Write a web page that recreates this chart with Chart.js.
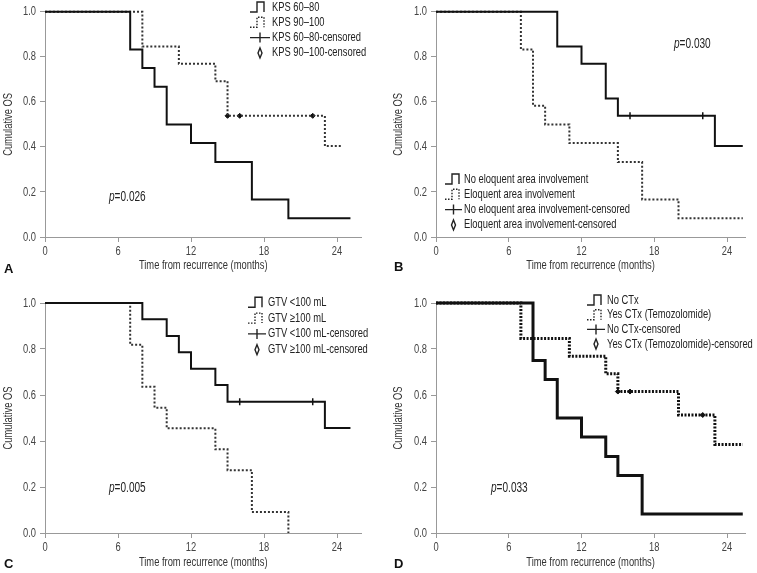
<!DOCTYPE html>
<html>
<head>
<meta charset="utf-8">
<script src="https://cdn.jsdelivr.net/npm/chart.js@4/dist/chart.umd.min.js"></script>
<style>
  html, body { margin: 0; padding: 0; background: #fff; }
  #wrap { position: relative; width: 757px; height: 573px; }
  canvas { position: absolute; }
</style>
</head>
<body>
<div id="wrap">
  <canvas id="chartA" width="378" height="286" style="left:0;top:0"></canvas>
  <canvas id="chartB" width="379" height="286" style="left:378px;top:0"></canvas>
  <canvas id="chartC" width="378" height="287" style="left:0;top:286px"></canvas>
  <canvas id="chartD" width="379" height="287" style="left:378px;top:286px"></canvas>
</div>
<script>
// axis ticks
const monthTicks = [0, 6, 12, 18, 24];
const survTicks = [0, 0.2, 0.4, 0.6, 0.8, 1.0];

// A: KPS
const kpsLowT = [0, 7, 8, 9, 10, 12, 14, 17, 20, 25.1];
const kpsLowS = [1, 0.833, 0.75, 0.667, 0.5, 0.417, 0.333, 0.167, 0.083, 0.083];
const kpsHighT = [0, 8, 11, 14, 15, 23, 24.4];
const kpsHighS = [1, 0.846, 0.769, 0.692, 0.538, 0.404, 0.404];
const kpsHighCensT = [15, 16, 22];
const kpsHighCensS = [0.538, 0.538, 0.538];

// B: eloquent area
const noEloT = [0, 10, 12, 14, 15, 23, 25.3];
const noEloS = [1, 0.846, 0.769, 0.615, 0.538, 0.404, 0.404];
const noEloCensT = [16, 22];
const noEloCensS = [0.538, 0.538];
const eloT = [0, 7, 8, 9, 11, 15, 17, 20, 25.3];
const eloS = [1, 0.833, 0.583, 0.5, 0.417, 0.333, 0.167, 0.083, 0.083];

// C: GTV
const gtvLowT = [0, 8, 10, 11, 12, 14, 15, 23, 25.1];
const gtvLowS = [1, 0.929, 0.857, 0.786, 0.714, 0.643, 0.571, 0.457, 0.457];
const gtvLowCensT = [16, 22];
const gtvLowCensS = [0.571, 0.571];
const gtvHighT = [0, 7, 8, 9, 10, 14, 15, 17, 20];
const gtvHighS = [1, 0.818, 0.636, 0.545, 0.455, 0.364, 0.273, 0.091, 0];

// D: chemotherapy
const noCtxT = [0, 8, 9, 10, 12, 14, 15, 17, 25.3];
const noCtxS = [1, 0.75, 0.667, 0.5, 0.417, 0.333, 0.25, 0.083, 0.083];
const ctxT = [0, 7, 11, 14, 15, 20, 23, 25.3];
const ctxS = [1, 0.846, 0.769, 0.692, 0.615, 0.513, 0.385, 0.385];
const ctxCensT = [15, 16, 22];
const ctxCensS = [0.615, 0.615, 0.513];

const FONT = "'Liberation Sans', Arial, sans-serif";
const NARROW = 0.72; // no condensed face installed, so squeeze text horizontally
Chart.defaults.font.family = FONT;
Chart.defaults.font.size = 13;
Chart.defaults.color = '#444';

const pts = (t, s) => t.map((x, i) => ({ x: x, y: s[i] }));

function solidLine(t, s, w) {
  return { data: pts(t, s), stepped: true, borderColor: '#111', borderWidth: w || 2,
           pointRadius: 0, fill: false, clip: 4 };
}
function dottedLine(t, s, w, dash, color) {
  return { data: pts(t, s), stepped: true, borderColor: color || '#333', borderWidth: w || 2,
           borderDash: dash || [2, 2], pointRadius: 0, fill: false, clip: 4 };
}
function tickMarks(t, s) {
  return { data: pts(t, s), showLine: false, pointStyle: 'line', rotation: 90,
           pointRadius: 3.5, borderColor: '#111', borderWidth: 1.5, clip: 6 };
}
function diamondMarks(t, s) {
  return { data: pts(t, s), showLine: false, pointStyle: 'rectRot', pointRadius: 2.5,
           backgroundColor: '#111', borderColor: '#111', borderWidth: 1, clip: 6 };
}

// condensed text for everything drawn on the canvas
const narrowText = {
  id: 'narrowText',
  afterInit(chart) {
    const ctx = chart.ctx;
    const fill = ctx.fillText;
    ctx.squeeze = NARROW;
    ctx.fillText = function (text, x, y) {
      this.save();
      this.translate(x, y);
      this.scale(this.squeeze, 1);
      fill.call(this, text, 0, 0);
      this.restore();
    };
  }
};

// legend, p value and panel letter
const kmDecor = {
  id: 'kmDecor',
  afterDraw(chart, args, o) {
    const ctx = chart.ctx;
    ctx.save();
    ctx.strokeStyle = '#222';
    ctx.fillStyle = '#222';
    ctx.textBaseline = 'middle';
    ctx.textAlign = 'left';
    ctx.font = '13px ' + FONT;
    o.labels.forEach((label, i) => {
      const y = o.y0 + i * o.rowH;
      const x = o.symX;
      const mid = (x + o.textX - 2) / 2;
      ctx.lineWidth = 1.4;
      ctx.setLineDash([]);
      ctx.beginPath();
      if (i === 0 || i === 1) {
        if (i === 1) ctx.setLineDash([1.5, 1.5]);
        ctx.moveTo(x, y + 5);
        ctx.lineTo(x + 7, y + 5);
        ctx.lineTo(x + 7, y - 5);
        ctx.lineTo(x + 14, y - 5);
        ctx.lineTo(x + 14, y + 5);
      } else if (i === 2) {
        ctx.moveTo(x, y);
        ctx.lineTo(o.textX - 2, y);
        ctx.moveTo(mid, y - 5);
        ctx.lineTo(mid, y + 5);
      } else {
        ctx.moveTo(mid, y - 5);
        ctx.lineTo(mid + 2, y);
        ctx.lineTo(mid, y + 5);
        ctx.lineTo(mid - 2, y);
        ctx.closePath();
      }
      ctx.stroke();
      ctx.setLineDash([]);
      ctx.fillText(label, o.textX, y);
    });
    // p value
    ctx.font = 'italic 14px ' + FONT;
    ctx.fillText('p', o.pX, o.pY);
    const pw = ctx.measureText('p').width * NARROW;
    ctx.font = '14px ' + FONT;
    ctx.fillText('=' + o.pValue, o.pX + pw, o.pY);
    // panel letter
    ctx.squeeze = 1;
    ctx.fillStyle = '#111';
    ctx.font = 'bold 13px ' + FONT;
    ctx.fillText(o.letter, o.letterX, o.letterY);
    ctx.squeeze = NARROW;
    ctx.restore();
  }
};

function panel(id, p) {
  return new Chart(document.getElementById(id), {
    type: 'line',
    data: { datasets: p.datasets },
    options: {
      responsive: false,
      animation: false,
      events: [],
      layout: { padding: p.padding },
      plugins: { legend: { display: false }, tooltip: { enabled: false }, kmDecor: p.decor },
      scales: {
        x: {
          type: 'linear', min: 0, max: p.xMax,
          afterBuildTicks: (s) => { s.ticks = monthTicks.map((v) => ({ value: v })); },
          afterFit: (s) => { s.height = p.xHeight; },
          ticks: { color: '#444', padding: 2, font: { size: 13 }, maxRotation: 0 },
          grid: { drawOnChartArea: false, tickLength: 5, color: '#999' },
          border: { color: '#999' },
          title: { display: true, text: 'Time from recurrence (months)', color: '#333',
                   padding: 0, font: { size: 13 } }
        },
        y: {
          min: 0, max: 1,
          afterBuildTicks: (s) => { s.ticks = survTicks.map((v) => ({ value: v })); },
          afterFit: (s) => { s.width = p.yWidth; },
          ticks: { color: '#444', padding: 4, font: { size: 13 }, callback: (v) => v.toFixed(1) },
          grid: { drawOnChartArea: false, tickLength: 5, color: '#999' },
          border: { color: '#999' },
          title: { display: true, text: 'Cumulative OS', color: '#333',
                   padding: { top: p.yTitlePad, bottom: 0 }, font: { size: 13 } }
        }
      }
    },
    plugins: [narrowText, kmDecor]
  });
}

panel('chartA', {
  datasets: [
    solidLine(kpsLowT, kpsLowS),
    dottedLine(kpsHighT, kpsHighS),
    diamondMarks(kpsHighCensT, kpsHighCensS)
  ],
  xMax: 26, yWidth: 45, xHeight: 35.8, yTitlePad: 1,
  padding: { top: 7, right: 16.6, bottom: 13.2, left: 0 },
  decor: {
    labels: ['KPS 60\u201380', 'KPS 90\u2013100', 'KPS 60\u201380-censored', 'KPS 90\u2013100-censored'],
    symX: 250, textX: 272, y0: 7, rowH: 15.3,
    pValue: '0.026', pX: 109, pY: 197, letter: 'A', letterX: 4, letterY: 269
  }
});

panel('chartB', {
  datasets: [
    solidLine(noEloT, noEloS),
    tickMarks(noEloCensT, noEloCensS),
    dottedLine(eloT, eloS)
  ],
  xMax: 25.5, yWidth: 58, xHeight: 35.8, yTitlePad: 13,
  padding: { top: 7, right: 11.8, bottom: 13.2, left: 0 },
  decor: {
    labels: ['No eloquent area involvement', 'Eloquent area involvement',
             'No eloquent area involvement-censored', 'Eloquent area involvement-censored'],
    symX: 67, textX: 86, y0: 179, rowH: 15.3,
    pValue: '0.030', pX: 296, pY: 44, letter: 'B', letterX: 16, letterY: 267
  }
});

panel('chartC', {
  datasets: [
    solidLine(gtvLowT, gtvLowS),
    tickMarks(gtvLowCensT, gtvLowCensS),
    dottedLine(gtvHighT, gtvHighS)
  ],
  xMax: 26, yWidth: 45, xHeight: 36.8, yTitlePad: 1,
  padding: { top: 17, right: 16.6, bottom: 3.2, left: 0 },
  decor: {
    labels: ['GTV <100 mL', 'GTV \u2265100 mL', 'GTV <100 mL-censored', 'GTV \u2265100 mL-censored'],
    symX: 248, textX: 268, y0: 16.3, rowH: 15.8,
    pValue: '0.005', pX: 109, pY: 202, letter: 'C', letterX: 4, letterY: 278
  }
});

panel('chartD', {
  datasets: [
    solidLine(noCtxT, noCtxS, 3),
    dottedLine(ctxT, ctxS, 3, [2, 1.5], '#111'),
    diamondMarks(ctxCensT, ctxCensS)
  ],
  xMax: 25.5, yWidth: 58, xHeight: 36.8, yTitlePad: 13,
  padding: { top: 17, right: 11.8, bottom: 3.2, left: 0 },
  decor: {
    labels: ['No CTx', 'Yes CTx (Temozolomide)', 'No CTx-censored', 'Yes CTx (Temozolomide)-censored'],
    symX: 209, textX: 229, y0: 14, rowH: 14.7,
    pValue: '0.033', pX: 113, pY: 202, letter: 'D', letterX: 16, letterY: 278
  }
});
</script>
</body>
</html>
